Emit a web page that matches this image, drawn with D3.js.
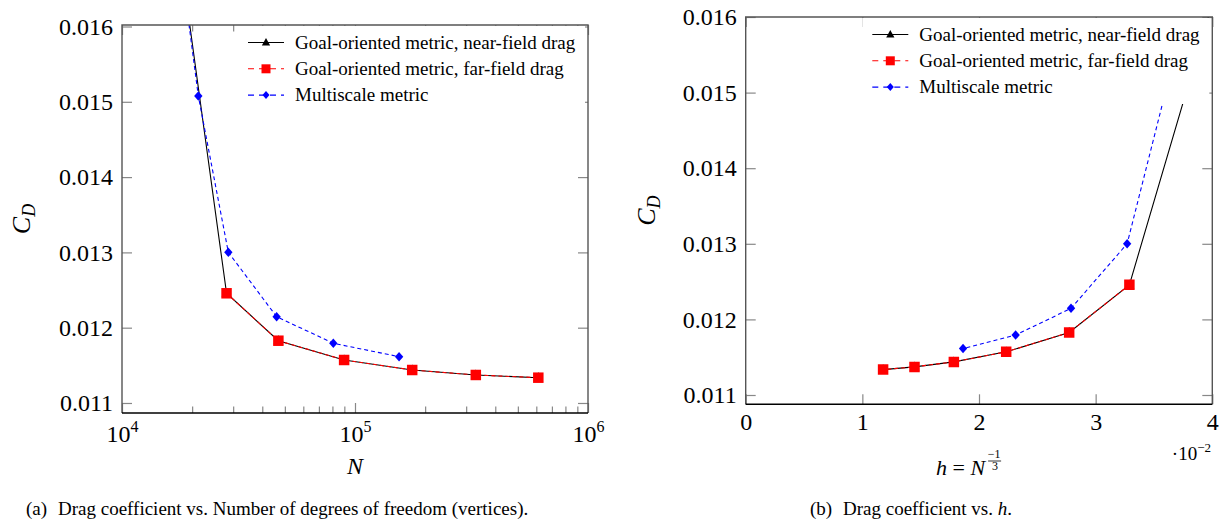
<!DOCTYPE html>
<html>
<head>
<meta charset="utf-8">
<script src="https://cdn.jsdelivr.net/npm/d3@7"></script>
<style>
  body { margin: 0; background: #fff; }
  svg { display: block; }
  text { font-family: "Liberation Serif", "Times New Roman", serif; }
</style>
</head>
<body>
<svg id="chart" width="1228" height="523"></svg>
<script>
// values (N = vertices, CD = drag coefficient)
const N_near  = [1450, 28100, 46900, 89800, 176000, 330000, 612000];
const CD_near = [0.0415, 0.012457, 0.011827, 0.011571, 0.011438, 0.011372, 0.011336];
const N_far   = [28100, 46900, 89800, 176000, 330000, 612000];
const CD_far  = [0.012457, 0.011827, 0.011571, 0.011438, 0.011372, 0.011336];
const N_multi  = [1500, 21260, 28600, 46100, 80700, 154600];
const CD_multi = [0.0423, 0.015077, 0.013001, 0.012146, 0.011793, 0.011615];

const yTicks = [0.011, 0.012, 0.013, 0.014, 0.015, 0.016];
const nTicks = [1e4, 1e5, 1e6];
const hTicks = [0, 1, 2, 3, 4];
const legendLabels = [
  "Goal-oriented metric, near-field drag",
  "Goal-oriented metric, far-field drag",
  "Multiscale metric"
];

const FONT = "Liberation Serif";

const series = [
  {x: N_near,  y: CD_near,  color: "#000", dash: null,  shape: "tri"},
  {x: N_far,   y: CD_far,   color: "#f00", dash: "4,3", shape: "sq"},
  {x: N_multi, y: CD_multi, color: "#00f", dash: "4,3", shape: "dia"}
];

const svg = d3.select("#chart");

function drawMarker(g, shape, color, cx, cy, s) {
  let d;
  if (shape == "tri") d = `M${cx},${cy - s * 0.6}L${cx + s * 0.55},${cy + s * 0.4}L${cx - s * 0.55},${cy + s * 0.4}Z`;
  else if (shape == "sq") d = `M${cx - s / 2},${cy - s / 2}h${s}v${s}h${-s}Z`;
  else d = `M${cx},${cy - s * 0.5}L${cx + s * 0.44},${cy}L${cx},${cy + s * 0.5}L${cx - s * 0.44},${cy}Z`;
  g.append("path").attr("d", d).attr("fill", color);
}

const markerSize = {tri: 9, sq: 10.5, dia: 9.5};

function drawPlot(opt) {
  const x = opt.x, y = opt.y, xOf = opt.xOf;
  const [x0, x1] = x.range();
  const [yb, yt] = y.range();
  const g = svg.append("g");

  g.append("clipPath").attr("id", opt.id)
    .append("rect").attr("x", x0).attr("y", yt).attr("width", x1 - x0).attr("height", yb - yt);

  // axes with inward ticks on all four sides
  const styleAxis = a => {
    a.attr("font-family", FONT).attr("font-size", 24);
    a.selectAll("text").attr("font-family", FONT);
    a.select(".domain").remove();
    a.selectAll(".tick line").attr("stroke", "#888").attr("stroke-width", 1.2);
  };
  const bottom = g.append("g").attr("transform", `translate(0,${yb})`)
    .call(d3.axisBottom(x).tickValues(opt.xTicks).tickSize(-10).tickFormat(opt.xFormat))
    .call(styleAxis);
  bottom.selectAll("text").attr("dy", null).attr("y", opt.xLabelY);
  if (opt.xSup) bottom.selectAll("text").each(opt.xSup);

  g.append("g").attr("transform", `translate(0,${yt})`)
    .call(d3.axisTop(x).tickValues(opt.xTicks).tickSize(-10).tickFormat(""))
    .call(styleAxis);
  if (opt.minor) {
    [[yb, d3.axisBottom], [yt, d3.axisTop]].forEach(([yy, ax]) => {
      g.append("g").attr("transform", `translate(0,${yy})`)
        .call(ax(x).tickValues(opt.minor).tickSize(-6.5).tickFormat(""))
        .call(styleAxis);
    });
  }
  g.append("g").attr("transform", `translate(${x0},0)`)
    .call(d3.axisLeft(y).tickValues(yTicks).tickSize(-10).tickPadding(9).tickFormat(d3.format(".3f")))
    .call(styleAxis);
  g.append("g").attr("transform", `translate(${x1},0)`)
    .call(d3.axisRight(y).tickValues(yTicks).tickSize(-10).tickFormat(""))
    .call(styleAxis);

  // data
  const plotArea = g.append("g").attr("clip-path", `url(#${opt.id})`);
  series.forEach(s => {
    const pts = s.x.map((n, i) => [x(xOf(n)), y(s.y[i])]);
    plotArea.append("path")
      .attr("d", d3.line()(pts))
      .attr("fill", "none")
      .attr("stroke", s.color)
      .attr("stroke-width", 1.1)
      .attr("stroke-dasharray", s.dash);
    pts.forEach(p => drawMarker(plotArea, s.shape, s.color, p[0], p[1], markerSize[s.shape]));
  });

  // frame
  g.append("path").attr("d", `M${x0},${yb}V${yt}H${x1}V${yb}`)
    .attr("fill", "none").attr("stroke", "#555").attr("stroke-width", 1.4);
  g.append("line").attr("x1", x0).attr("x2", x1).attr("y1", yb).attr("y2", yb)
    .attr("stroke", "#000").attr("stroke-width", 1.4);

  // legend (white box hides lines passing underneath)
  const lg = g.append("g").attr("transform", `translate(${x1},${yt})`);
  lg.append("rect").attr("x", -350).attr("y", 1).attr("width", 347).attr("height", 86).attr("fill", "#fff");
  series.forEach((s, i) => {
    const ly = 17.5 + i * 26.3;
    lg.append("line").attr("x1", -340).attr("x2", -304).attr("y1", ly).attr("y2", ly)
      .attr("stroke", s.color).attr("stroke-width", 1.1).attr("stroke-dasharray", s.dash ? "6,5" : null);
    drawMarker(lg, s.shape, s.color, -322, ly, markerSize[s.shape] - 1.5);
    lg.append("text").attr("x", -293).attr("y", ly).attr("dy", "0.33em")
      .attr("font-size", 19).text(legendLabels[i]);
  });

  // y label C_D
  const yl = g.append("text")
    .attr("transform", `translate(${opt.yLabelX},${(yb + yt) / 2}) rotate(-90)`)
    .attr("text-anchor", "middle").attr("font-size", 26).attr("font-style", "italic");
  yl.append("tspan").text("C");
  yl.append("tspan").attr("font-size", 18).attr("dy", 5).text("D");
  return g;
}

// (a) CD vs N
const xa = d3.scaleLog().domain([1e4, 1e6]).range([122, 588]);
const ya = d3.scaleLinear().domain([0.010867, 0.01602]).range([413, 25]);
const minorN = [];
[1e4, 1e5].forEach(b => { for (let k = 2; k <= 9; k++) minorN.push(k * b); });

drawPlot({
  id: "clipA", x: xa, y: ya, xOf: n => n,
  xTicks: nTicks, minor: minorN, xFormat: () => "", xLabelY: 29, yLabelX: 30,
  xSup: function(d) {
    const t = d3.select(this);
    t.append("tspan").text("10");
    t.append("tspan").attr("font-size", 16).attr("dy", -10).text(Math.round(Math.log10(d)));
  }
});

// (b) CD vs h = N^(-1/3), in units of 1e-2
const xb = d3.scaleLinear().domain([0, 4]).range([745.7, 1212.3]);
const yb = d3.scaleLinear().domain([0.010877, 0.016]).range([404.3, 17]);
drawPlot({
  id: "clipB", x: xb, y: yb, xOf: n => 100 * Math.pow(n, -1 / 3),
  xTicks: hTicks, xFormat: d3.format("d"), xLabelY: 25.7, yLabelX: 655
});

// axis labels
svg.append("text").attr("x", 355).attr("y", 474).attr("text-anchor", "middle")
  .attr("font-size", 24).attr("font-style", "italic").text("N");

const hl = svg.append("text").attr("x", 936).attr("y", 475).attr("font-size", 22);
hl.append("tspan").attr("font-style", "italic").text("h");
hl.append("tspan").text(" = ");
hl.append("tspan").attr("font-style", "italic").text("N");
const hEnd = 936 + hl.node().getComputedTextLength() + 3;
svg.append("text").attr("x", hEnd + 6).attr("y", 458).attr("text-anchor", "middle")
  .attr("font-size", 12).text("\u22121");
svg.append("line").attr("x1", hEnd).attr("x2", hEnd + 13).attr("y1", 461).attr("y2", 461)
  .attr("stroke", "#000").attr("stroke-width", 0.8);
svg.append("text").attr("x", hEnd + 7).attr("y", 470).attr("text-anchor", "middle")
  .attr("font-size", 12).text("3");

const sc = svg.append("text").attr("x", 1211).attr("y", 460).attr("text-anchor", "end").attr("font-size", 19);
sc.append("tspan").text("\u00b710");
sc.append("tspan").attr("font-size", 13).attr("dy", -8).text("\u22122");

// captions
svg.append("text").attr("x", 26).attr("y", 515).attr("font-size", 19).text("(a)");
svg.append("text").attr("x", 58).attr("y", 515).attr("font-size", 19)
  .text("Drag coefficient vs. Number of degrees of freedom (vertices).");
svg.append("text").attr("x", 810).attr("y", 515).attr("font-size", 19).text("(b)");
const cb = svg.append("text").attr("x", 843).attr("y", 515).attr("font-size", 19);
cb.append("tspan").text("Drag coefficient vs. ");
cb.append("tspan").attr("font-style", "italic").text("h");
cb.append("tspan").text(".");
</script>
</body>
</html>
